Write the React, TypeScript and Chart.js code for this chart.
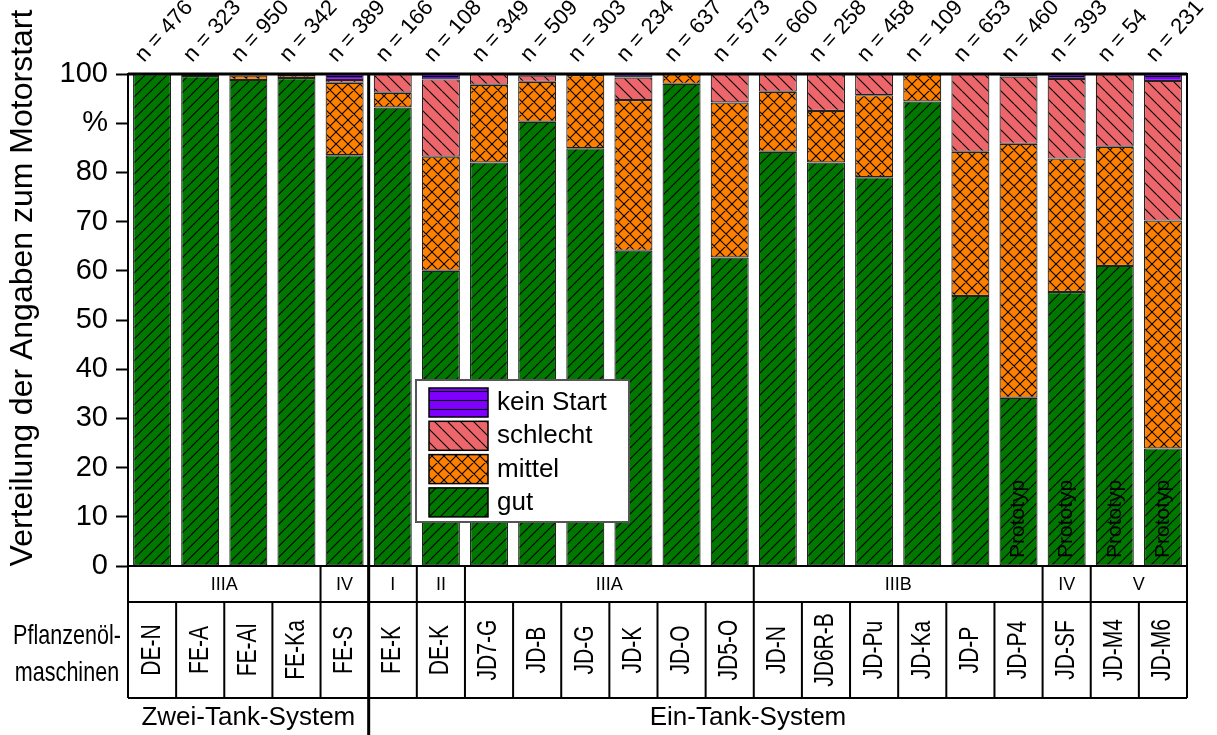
import React, { useEffect, useRef } from 'react';
import { Chart, registerables } from 'chart.js';

Chart.register(...registerables);

// Machines (x categories) and number of answers per machine
const machines = ['DE-N', 'FE-A', 'FE-Al', 'FE-Ka', 'FE-S', 'FE-K', 'DE-K', 'JD7-G', 'JD-B', 'JD-G', 'JD-K', 'JD-O', 'JD5-O', 'JD-N', 'JD6R-B', 'JD-Pu', 'JD-Ka', 'JD-P', 'JD-P4', 'JD-SF', 'JD-M4', 'JD-M6'];
const sampleSizes = [476, 323, 950, 342, 389, 166, 108, 349, 509, 303, 234, 637, 573, 660, 258, 458, 109, 653, 460, 393, 54, 231];

// Share of answers (%) per start rating
const gut = [100, 99.6, 98.8, 99.2, 83.5, 93.2, 60.0, 82.0, 90.3, 84.9, 64.1, 98.0, 62.7, 84.2, 82.0, 79.0, 94.4, 54.9, 34.2, 55.7, 61.0, 23.9];
const mittel = [0, 0.2, 0.9, 0.6, 14.7, 3.0, 23.2, 15.8, 8.1, 14.9, 30.6, 2.0, 31.5, 12.2, 10.5, 16.7, 5.6, 29.3, 51.6, 27.1, 24.2, 46.3];
const schlecht = [0, 0.2, 0.3, 0.2, 0.6, 3.8, 15.7, 2.2, 1.3, 0.2, 4.6, 0, 5.8, 3.6, 7.5, 4.3, 0, 15.8, 13.7, 16.2, 14.8, 28.4];
const keinStart = [0, 0, 0, 0, 1.2, 0, 1.1, 0, 0.3, 0, 0.7, 0, 0, 0, 0, 0, 0, 0, 0.5, 1.0, 0, 1.4];

// Emission stage groups: [label, number of machines]
const stageGroups: [string, number][] = [['IIIA', 4], ['IV', 1], ['I', 1], ['II', 1], ['IIIA', 6], ['IIIB', 6], ['IV', 1], ['V', 2]];
// Tank systems: [label, number of machines]
const systemGroups: [string, number][] = [['Zwei-Tank-System', 5], ['Ein-Tank-System', 17]];
const prototypes = ['JD-P4', 'JD-SF', 'JD-M4', 'JD-M6'];

const yTitle = 'Verteilung der Angaben zum Motorstart';
const rowTitle = ['Pflanzenöl-', 'maschinen'];
const legendLabels = ['kein Start', 'schlecht', 'mittel', 'gut'];

const FONT = '"Liberation Sans", Arial, sans-serif';

type Hatch = 'fwd' | 'back' | 'cross' | 'horiz';

function makePattern(bg: string, kind: Hatch, size: number): CanvasPattern {
  const cv = document.createElement('canvas');
  cv.width = size;
  cv.height = size;
  const c = cv.getContext('2d')!;
  c.fillStyle = bg;
  c.fillRect(0, 0, size, size);
  c.strokeStyle = '#000';
  c.lineWidth = 1.1;
  c.beginPath();
  if (kind === 'fwd' || kind === 'cross') {
    for (let k = -1; k <= 1; k++) {
      c.moveTo(k * size, size);
      c.lineTo(k * size + size, 0);
    }
  }
  if (kind === 'back' || kind === 'cross') {
    for (let k = -1; k <= 1; k++) {
      c.moveTo(k * size, 0);
      c.lineTo(k * size + size, size);
    }
  }
  if (kind === 'horiz') {
    c.moveTo(0, size / 2);
    c.lineTo(size, size / 2);
  }
  c.stroke();
  return c.createPattern(cv, 'repeat')!;
}

export default function App() {
  const canvasRef = useRef<HTMLCanvasElement | null>(null);

  useEffect(() => {
    const canvas = canvasRef.current;
    if (!canvas) return;

    const patGut = makePattern('#007800', 'fwd', 11);
    const patMittel = makePattern('#ff8000', 'cross', 12);
    const patSchlecht = makePattern('#ec666b', 'back', 13);
    const patKein = makePattern('#8000ff', 'horiz', 9);
    const legendFills = [patKein, patSchlecht, patMittel, patGut];

    const decor = {
      id: 'decor',
      afterDatasetsDraw(chart: any) {
        const ctx: CanvasRenderingContext2D = chart.ctx;
        const { left, right, top, bottom } = chart.chartArea;
        const xs = chart.scales.x;
        const cx = (i: number) => xs.getPixelForValue(i);
        const step = cx(1) - cx(0);
        const edge = (i: number) => cx(i) - step / 2;

        ctx.save();

        // "Prototyp" notes inside bars
        ctx.fillStyle = '#000';
        ctx.font = `21px ${FONT}`;
        ctx.textAlign = 'left';
        ctx.textBaseline = 'middle';
        prototypes.forEach((name) => {
          const i = machines.indexOf(name);
          ctx.save();
          ctx.translate(cx(i), 558);
          ctx.rotate(-Math.PI / 2);
          ctx.fillText('Prototyp', 0, 0);
          ctx.restore();
        });

        // plot frame
        ctx.strokeStyle = '#000';
        ctx.lineWidth = 2;
        ctx.strokeRect(left, top, right - left, bottom - top);
        ctx.lineWidth = 3;
        ctx.beginPath();
        ctx.moveTo(left, top);
        ctx.lineTo(right, top);
        ctx.stroke();

        // sample sizes above bars
        ctx.font = `22px ${FONT}`;
        ctx.textAlign = 'left';
        ctx.textBaseline = 'alphabetic';
        sampleSizes.forEach((n, i) => {
          ctx.save();
          ctx.translate(cx(i) - 8, 63);
          ctx.rotate(-Math.PI * 48 / 180);
          ctx.fillText(`n = ${n}`, 0, 0);
          ctx.restore();
        });

        // table below the plot
        const rowMid = 602;
        const rowBot = 698;
        ctx.lineWidth = 2;
        ctx.beginPath();
        ctx.moveTo(left, bottom);
        ctx.lineTo(left, rowBot);
        ctx.moveTo(right, bottom);
        ctx.lineTo(right, rowBot);
        ctx.moveTo(left, rowMid);
        ctx.lineTo(right, rowMid);
        ctx.moveTo(left, rowBot);
        ctx.lineTo(right, rowBot);
        for (let i = 1; i < machines.length; i++) {
          ctx.moveTo(edge(i), rowMid);
          ctx.lineTo(edge(i), rowBot);
        }
        let acc = 0;
        stageGroups.forEach(([, cnt], g) => {
          acc += cnt;
          if (g < stageGroups.length - 1) {
            ctx.moveTo(edge(acc), bottom);
            ctx.lineTo(edge(acc), rowMid);
          }
        });
        ctx.stroke();

        // stage labels
        ctx.font = `18px ${FONT}`;
        ctx.textAlign = 'center';
        ctx.textBaseline = 'middle';
        acc = 0;
        stageGroups.forEach(([label, cnt]) => {
          const x0 = edge(acc);
          const x1 = edge(acc + cnt);
          ctx.fillText(label, (x0 + x1) / 2, 585);
          acc += cnt;
        });

        // machine names (condensed, vertical)
        ctx.font = `27px ${FONT}`;
        machines.forEach((name, i) => {
          ctx.save();
          ctx.translate(cx(i), 650);
          ctx.rotate(-Math.PI / 2);
          ctx.scale(0.78, 1);
          ctx.fillText(name, 0, 0);
          ctx.restore();
        });

        // row title
        ctx.font = `28px ${FONT}`;
        rowTitle.forEach((t, k) => {
          ctx.save();
          ctx.translate(67, 636 + k * 37);
          ctx.scale(0.77, 1);
          ctx.fillText(t, 0, 0);
          ctx.restore();
        });

        // separator between tank systems
        const sepX = edge(systemGroups[0][1]);
        ctx.lineWidth = 3;
        ctx.beginPath();
        ctx.moveTo(sepX, top);
        ctx.lineTo(sepX, 735);
        ctx.stroke();

        // tank system labels
        ctx.font = `26px ${FONT}`;
        ctx.fillText(systemGroups[0][0], (left + sepX) / 2, 718);
        ctx.fillText(systemGroups[1][0], 748, 718);

        // y axis title
        ctx.font = `32px ${FONT}`;
        ctx.save();
        ctx.translate(23, 288);
        ctx.rotate(-Math.PI / 2);
        ctx.fillText(yTitle, 0, 0);
        ctx.restore();

        // legend
        const lx = 416, ly = 380, lw = 213, lh = 142;
        ctx.fillStyle = '#fff';
        ctx.fillRect(lx, ly, lw, lh);
        ctx.strokeStyle = '#555';
        ctx.lineWidth = 2;
        ctx.strokeRect(lx, ly, lw, lh);
        ctx.font = `26px ${FONT}`;
        ctx.textAlign = 'left';
        legendLabels.forEach((lab, k) => {
          const sy = 388 + k * 33.3;
          ctx.fillStyle = legendFills[k];
          ctx.fillRect(429, sy, 59, 29);
          ctx.strokeStyle = '#000';
          ctx.lineWidth = 1.5;
          ctx.strokeRect(429, sy, 59, 29);
          ctx.fillStyle = '#000';
          ctx.fillText(lab, 497, sy + 15);
        });

        ctx.restore();
      },
    };

    const common = { borderColor: '#222', borderWidth: 1.2, borderSkipped: false as const };

    const chart = new Chart(canvas, {
      type: 'bar',
      data: {
        labels: machines,
        datasets: [
          { label: 'gut', data: gut, backgroundColor: patGut, ...common },
          { label: 'mittel', data: mittel, backgroundColor: patMittel, ...common },
          { label: 'schlecht', data: schlecht, backgroundColor: patSchlecht, ...common },
          { label: 'kein Start', data: keinStart, backgroundColor: patKein, ...common },
        ],
      },
      options: {
        animation: false,
        responsive: false,
        devicePixelRatio: 1,
        layout: { padding: { top: 74, right: 30, bottom: 169, left: 0 } },
        datasets: { bar: { categoryPercentage: 1, barPercentage: 0.79 } },
        plugins: { legend: { display: false }, tooltip: { enabled: false } },
        scales: {
          x: { stacked: true, display: false },
          y: {
            stacked: true,
            min: 0,
            max: 100,
            afterFit: (s: any) => {
              s.width = 128;
            },
            ticks: {
              stepSize: 10,
              color: '#000',
              padding: 8,
              font: { family: FONT, size: 29 },
              callback: (v: any) => (Number(v) === 90 ? '%' : String(v)),
            },
            grid: { drawOnChartArea: false, tickLength: 12, tickWidth: 2, tickColor: '#000' },
            border: { color: '#000', width: 2 },
          },
        },
      },
      plugins: [decor],
    });

    return () => chart.destroy();
  }, []);

  return (
    <div style={{ position: 'absolute', left: 0, top: 0, width: 1217, height: 735, background: '#fff' }}>
      <canvas ref={canvasRef} width={1217} height={735} style={{ display: 'block' }} />
    </div>
  );
}
